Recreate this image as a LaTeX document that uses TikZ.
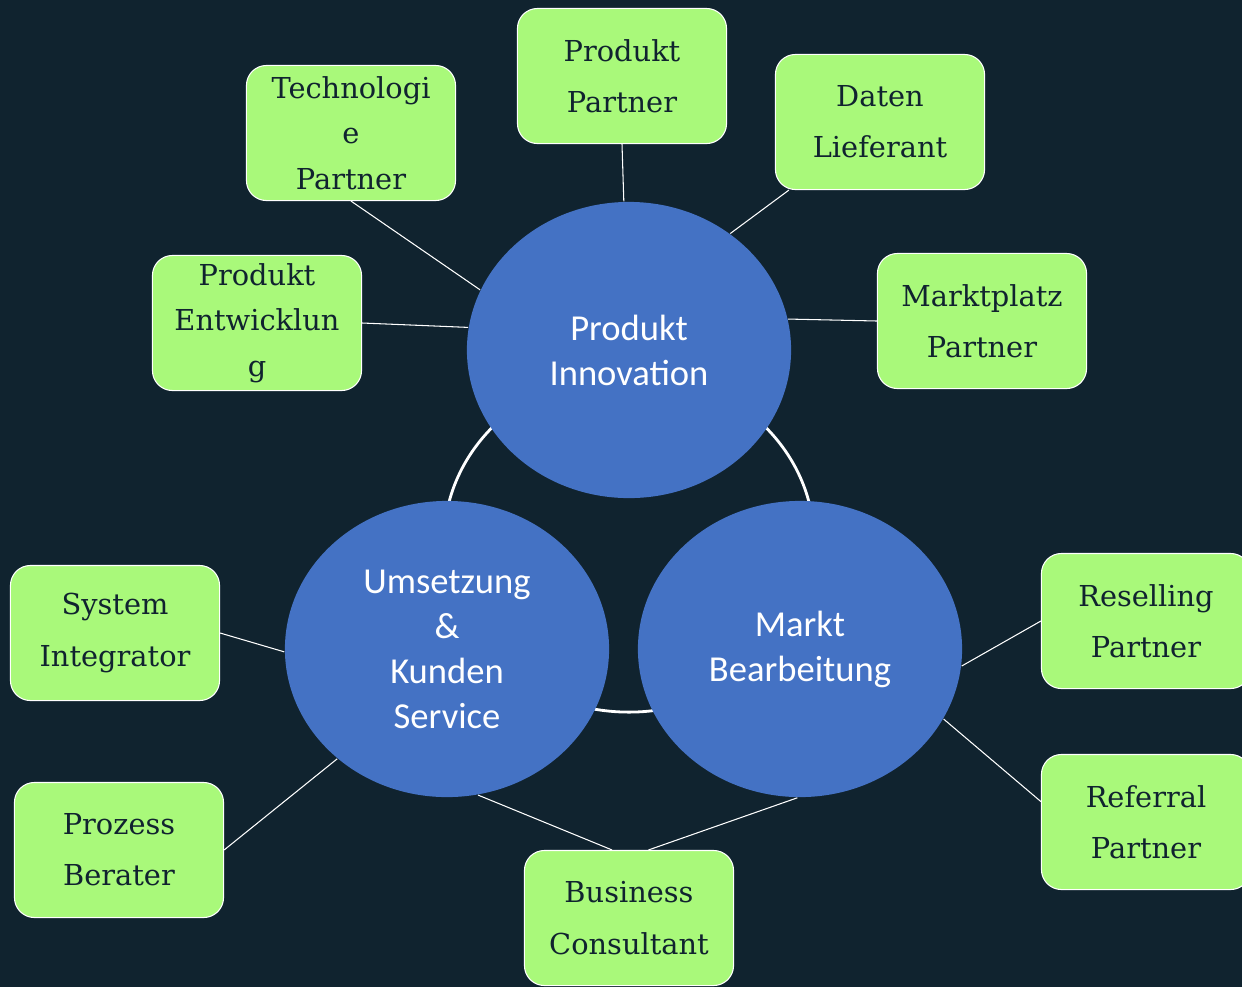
\documentclass[tikz,border=0pt]{standalone}
\usepackage{fontspec}
\usetikzlibrary{shapes.geometric}
\newfontfamily\leaffont{DejaVu Serif}
\newfontfamily\hubfont{Carlito}
\definecolor{bgdark}{HTML}{10232F}
\definecolor{leafgreen}{HTML}{A9F97A}
\definecolor{hubblue}{HTML}{4472C4}

\tikzset{
  partner/.style={draw=white, line width=0.3pt, fill=leafgreen, rounded corners=0.2cm,
    minimum width=2.09cm, minimum height=1.35cm, inner sep=0pt, align=center,
    text=bgdark, font=\leaffont\fontsize{8.2}{14.6}\selectfont},
  tight/.style={font=\leaffont\fontsize{8.2}{12.9}\selectfont},
  hubnode/.style={shape=ellipse, fill=hubblue, minimum width=3.24cm, minimum height=2.96cm,
    inner sep=0pt, align=center, text=white, font=\hubfont\fontsize{10.4}{12.8}\selectfont},
  link/.style={draw=white, line width=0.3pt}
}

\begin{document}
\begin{tikzpicture}[x=0.01cm, y=-0.01cm]
\fill[bgdark] (0,0) rectangle (1242,987);
\useasboundingbox (0,0) rectangle (1242,987);
\clip (0,0) rectangle (1242,987);

% ring behind the three hubs
\draw[white, line width=0.8pt] (629,542) ellipse [x radius=1.85cm, y radius=1.7cm];

\node[hubnode] (innov) at (629,350) {Produkt\\Innovation};
\node[hubnode] (umsetz) at (447,649) {Umsetzung\\\&\\Kunden\\Service};
\node[hubnode] (markt) at (800,649) {Markt\\Bearbeitung};

% partners round Produkt Innovation
\node[partner,tight] (tech) at (351,133) {Technologi\\e\\Partner};
\node[partner] (ppart) at (622,76) {Produkt\\Partner};
\node[partner] (daten) at (880,122) {Daten\\Lieferant};
\node[partner,tight] (entw) at (257,323) {Produkt\\Entwicklun\\g};
\node[partner] (mplatz) at (982,321) {Marktplatz\\Partner};
%
\node[partner] (sysint) at (115,633) {System\\Integrator};
\node[partner] (prozess) at (119,850) {Prozess\\Berater};
\node[partner] (busin) at (629,918) {Business\\Consultant};
%
\node[partner] (resell) at (1146,621) {Reselling\\Partner};
\node[partner] (referr) at (1146,822) {Referral\\Partner};

\draw[link] (tech.south) -- (innov.158);
\draw[link] (ppart.south) -- (innov.92);
\draw[link] ([xshift=0.14cm]daten.south west) -- (innov.49);
\draw[link] (entw.east) -- (innov.172);
\draw[link] (mplatz.west) -- (innov.11);

\draw[link] (sysint.east) -- (umsetz.181);
\draw[link] (prozess.east) -- (umsetz.225);
\draw[link] (busin.104) -- (umsetz.282);
\draw[link] (busin.74) -- (markt.269);

\draw[link] (resell.west) -- (markt.354);
\draw[link] (referr.169) -- (markt.334);
\end{tikzpicture}
\end{document}
